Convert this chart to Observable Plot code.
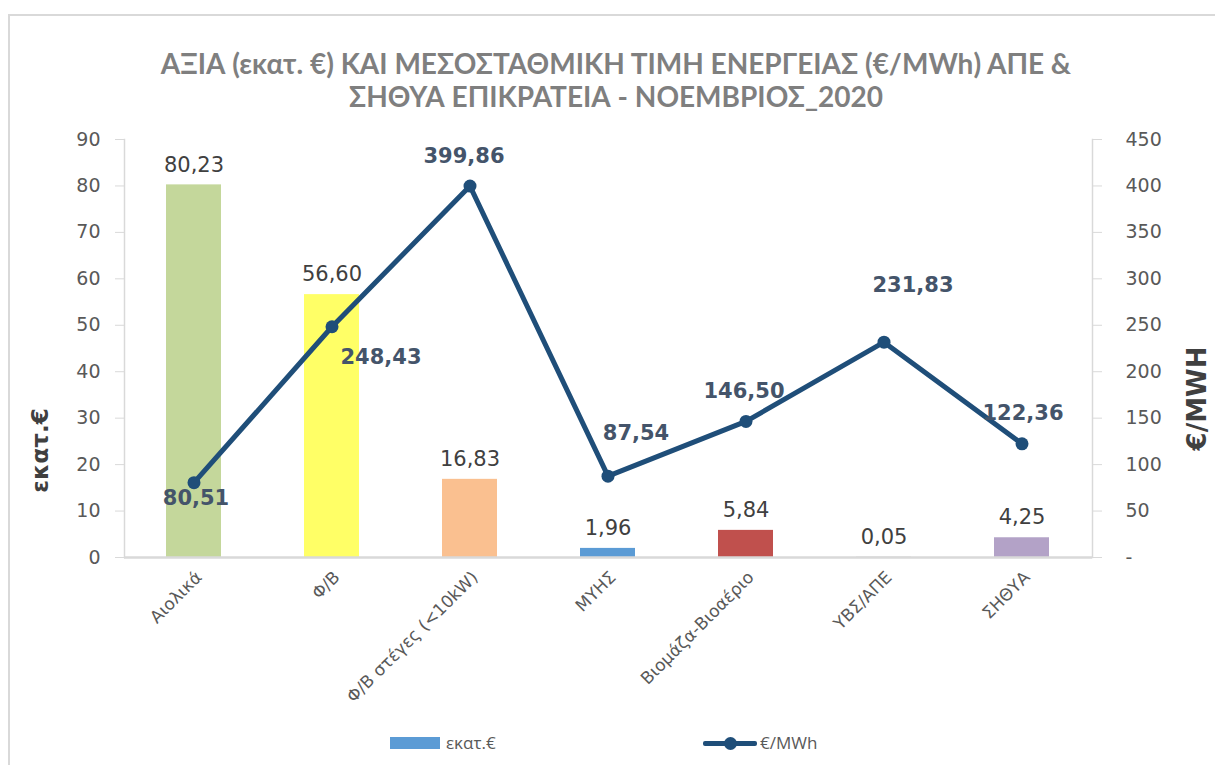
<!DOCTYPE html>
<html>
<head>
<meta charset="utf-8">
<script src="https://cdn.jsdelivr.net/npm/d3@7"></script>
<script src="https://cdn.jsdelivr.net/npm/@observablehq/plot@0.6"></script>
<style>
  html, body { margin: 0; padding: 0; background: #fff; overflow: hidden; }
  #page { position: relative; width: 1215px; height: 765px; overflow: hidden; background: #fff; }
  #frame { position: absolute; left: 8px; top: 14px; width: 1240px; height: 800px; border: 2px solid #D9D9D9; box-sizing: border-box; }
  #title { position: absolute; left: 0; top: 47px; width: 1232px; text-align: center;
    font-family: "Lato", "Open Sans", sans-serif; font-weight: bold;
    font-size: 28px; line-height: 33px; color: #7F7F7F; }
  #chart { position: absolute; left: 0; top: 120px; }
  .leg { position: absolute; font-family: "Open Sans", sans-serif; font-size: 17px; color: #595959; line-height: 20px; }
</style>
</head>
<body>
<div id="page">
  <div id="frame"></div>
  <div id="title">ΑΞΙΑ (εκατ. €) ΚΑΙ ΜΕΣΟΣΤΑΘΜΙΚΗ ΤΙΜΗ ΕΝΕΡΓΕΙΑΣ (€/MWh) ΑΠΕ &amp;<br>ΣΗΘΥΑ ΕΠΙΚΡΑΤΕΙΑ - ΝΟΕΜΒΡΙΟΣ_2020</div>
  <div id="chart"></div>
  <div style="position:absolute;left:390px;top:737px;width:50px;height:12px;background:#5B9BD5"></div>
  <div class="leg" style="left:446px;top:733px">εκατ.€</div>
  <div style="position:absolute;left:703px;top:741px;width:54px;height:5px;background:#1F4E79;border-radius:2px"></div>
  <div style="position:absolute;left:724px;top:737px;width:13px;height:13px;background:#1F4E79;border-radius:50%"></div>
  <div class="leg" style="left:760px;top:733px">€/MWh</div>
</div>
<script>
// ---- data ----
const categories = ["Αιολικά", "Φ/Β", "Φ/Β στέγες (<10kW)", "ΜΥΗΣ", "Βιομάζα-Βιοαέριο", "ΥΒΣ/ΑΠΕ", "ΣΗΘΥΑ"];
const valueMillionEuro = [80.23, 56.60, 16.83, 1.96, 5.84, 0.05, 4.25];
const priceEuroPerMWh = [80.51, 248.43, 399.86, 87.54, 146.50, 231.83, 122.36];
const leftTicks = [0, 10, 20, 30, 40, 50, 60, 70, 80, 90];
const rightTicks = [0, 50, 100, 150, 200, 250, 300, 350, 400, 450];
const barColors = ["#C4D79B", "#FFFF66", "#FAC090", "#5B9BD5", "#C0504D", "#A5A5A5", "#B3A2C7"];

// ---- build ----
const ratio = rightTicks[rightTicks.length - 1] / leftTicks[leftTicks.length - 1];
const rows = categories.map((c, i) => ({cat: c, value: valueMillionEuro[i], price: priceEuroPerMWh[i], priceScaled: priceEuroPerMWh[i] / ratio}));
const fmt = v => v.toFixed(2).replace(".", ",");

// label offsets for the line labels (screen px)
const lineLabelOffset = {
  "Αιολικά": [2, 16],
  "Φ/Β": [49, 31],
  "Φ/Β στέγες (<10kW)": [-6, -30],
  "ΜΥΗΣ": [28, -43],
  "Βιομάζα-Βιοαέριο": [-2, -30],
  "ΥΒΣ/ΑΠΕ": [29, -57],
  "ΣΗΘΥΑ": [1, -31]
};

const numFont = "DejaVu Sans, Verdana, sans-serif";
const lineColor = "#1F4E79";

const plot = Plot.plot({
  width: 1215,
  height: 590,
  marginTop: 19,
  marginBottom: 153,
  marginLeft: 124,
  marginRight: 123,
  style: {fontFamily: numFont, background: "transparent", overflow: "visible"},
  x: {domain: categories, paddingInner: 0.6, paddingOuter: 0.3, axis: null},
  y: {domain: [0, leftTicks[leftTicks.length - 1]], axis: null},
  color: {domain: categories, range: barColors},
  marks: [
    Plot.frame({anchor: "left", stroke: "#D9D9D9", strokeWidth: 1.5}),
    Plot.frame({anchor: "right", stroke: "#D9D9D9", strokeWidth: 1.5}),
    Plot.axisY({ticks: leftTicks, anchor: "left", tickSize: 9, tickPadding: 15, stroke: "#D9D9D9", fill: "#595959", fontSize: 19, label: null}),
    Plot.axisY({ticks: rightTicks.map(t => t / ratio), anchor: "right", tickSize: 9, tickPadding: 24, stroke: "#D9D9D9", fill: "#595959", fontSize: 19, label: null,
      textAnchor: "start", tickFormat: d => d === 0 ? "-" : String(Math.round(d * ratio))}),
    Plot.barY(rows, {x: "cat", y: "value", fill: "cat"}),
    Plot.ruleY([0], {stroke: "#D9D9D9", strokeWidth: 2.5}),
    Plot.axisX({anchor: "bottom", tickSize: 0, tickPadding: 17, tickRotate: -45, fill: "#595959", fontSize: 17, label: null, dx: 5}),
    Plot.text(rows, {x: "cat", y: "value", text: d => fmt(d.value), dy: -20, fontSize: 21, fill: "#404040"}),
    Plot.line(rows, {x: "cat", y: "priceScaled", stroke: lineColor, strokeWidth: 5}),
    Plot.dot(rows, {x: "cat", y: "priceScaled", r: 6.5, fill: lineColor}),
    ...rows.map(r => Plot.text([r], {x: "cat", y: "priceScaled", text: d => fmt(d.price),
      dx: lineLabelOffset[r.cat][0], dy: lineLabelOffset[r.cat][1], fontSize: 21, fontWeight: "bold", fill: "#44546A"})),
    Plot.text(["εκατ.€"], {frameAnchor: "left", textAnchor: "middle", rotate: -90, dx: -84, dy: 102, fontSize: 23, fontWeight: "bold", fill: "#404040"}),
    Plot.text(["€/MWH"], {frameAnchor: "right", textAnchor: "middle", rotate: -90, dx: 105, dy: 50, fontSize: 26, fontWeight: "bold", fill: "#404040"})
  ]
});
document.getElementById("chart").appendChild(plot);
</script>
</body>
</html>
